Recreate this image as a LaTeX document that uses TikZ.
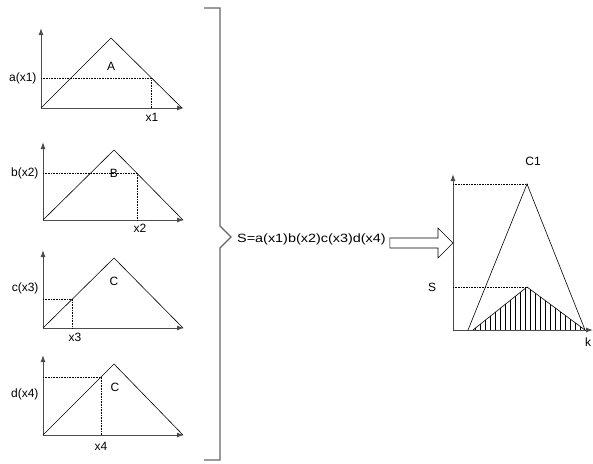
\documentclass[tikz,border=0pt]{standalone}
\usepackage{fontspec}
\setmainfont{Liberation Sans}
\usetikzlibrary{arrows.meta}

\begin{document}
\begin{tikzpicture}[x=1pt, y=-1pt, font=\fontsize{12}{14}\selectfont,
  axis/.style={draw=black!70, line width=1pt, -{Latex[length=7pt,width=5pt]}},
  tri/.style={draw, line width=0.6pt},
  guide/.style={densely dotted, line width=0.6pt},
  brace/.style={draw=black!60, line width=1.1pt}]

\useasboundingbox (0,0) rectangle (593,463);

\coordinate (o1) at (41,108);
\coordinate (t1) at (41,28);
\coordinate (e1) at (184,108);
\coordinate (p1) at (111,38);
\coordinate (m1) at (151,78);
\draw[axis] (o1) -- (t1);
\draw[axis] (o1) -- (e1);
\draw[tri] (o1) -- (p1) -- (182,108);
\draw[guide] (o1 |- m1) -- (m1) -- (m1 |- o1);
\node[anchor=east] (a1) at (40,78) {a(x1)};
\node (A) at (111,66) {A};
\node (x1) at (152,117) {x1};

\coordinate (o2) at (43,220);
\coordinate (t2) at (43,142);
\coordinate (e2) at (184,220);
\coordinate (p2) at (114,150);
\coordinate (m2) at (137,173);
\draw[axis] (o2) -- (t2);
\draw[axis] (o2) -- (e2);
\draw[tri] (o2) -- (p2) -- (183,220);
\draw[guide] (o2 |- m2) -- (m2) -- (m2 |- o2);
\node[anchor=east] (b2) at (42,173) {b(x2)};
\node (B) at (114,173) {B};
\node (x2) at (140,228) {x2};

\coordinate (o3) at (43,328);
\coordinate (t3) at (43,250);
\coordinate (e3) at (184,328);
\coordinate (p3) at (114,258);
\coordinate (m3) at (72,299);
\draw[axis] (o3) -- (t3);
\draw[axis] (o3) -- (e3);
\draw[tri] (o3) -- (p3) -- (183,328);
\draw[guide] (o3 |- m3) -- (m3) -- (m3 |- o3);
\node[anchor=east] (c3) at (42,288) {c(x3)};
\node (C) at (114,281) {C};
\node (x3) at (75,337) {x3};

\coordinate (o4) at (43,435);
\coordinate (t4) at (43,355);
\coordinate (e4) at (184,435);
\coordinate (p4) at (114,364);
\coordinate (m4) at (101,377);
\draw[axis] (o4) -- (t4);
\draw[axis] (o4) -- (e4);
\draw[tri] (o4) -- (p4) -- (183,435);
\draw[guide] (o4 |- m4) -- (m4) -- (m4 |- o4);
\node[anchor=east] (d4) at (42,394) {d(x4)};
\node (Cd) at (115,387) {C};
\node (x4) at (101,446) {x4};

\draw[brace] (204,8) -- (220,8) -- (220,226) -- (231,237) -- (220,248) -- (220,460) -- (204,460);

\node[anchor=west, inner sep=0pt] (rule) at (237,239) {\scalebox{1.2}[1]{S=a(x1)b(x2)c(x3)d(x4)}};

\coordinate (o5) at (453,330);
\coordinate (t5) at (453,174);
\coordinate (e5) at (593,330);
\coordinate (p5) at (527,184);
\coordinate (q5) at (527,287);

\coordinate (s0) at ([xshift=4pt]rule.east);
\draw[line width=0.6pt] (s0 |- 0,238) -- (438,238) -- (438,228) -- (o5 |- 0,243)
  -- (438,258) -- (438,248) -- (s0 |- 0,248) -- cycle;

\begin{scope}
\clip (473,330) -- (q5) -- (585,330) -- cycle;
\foreach \h in {475,480,...,585}
  \draw[line width=0.6pt] (\h,280) -- (\h,331);
\end{scope}
\draw[axis] (o5) -- (t5);
\draw[axis] (o5) -- (e5);
\draw[tri] (468,330) -- (p5) -- (585,330);
\draw[tri] (473,330) -- (q5) -- (585,330);
\draw[guide] (o5 |- p5) -- (p5);
\draw[guide] (o5 |- q5) -- (q5);
\node (S) at (432,287) {S};
\node (C1) at (533,161) {C1};
\node (k) at (588,342) {k};

\end{tikzpicture}
\end{document}
